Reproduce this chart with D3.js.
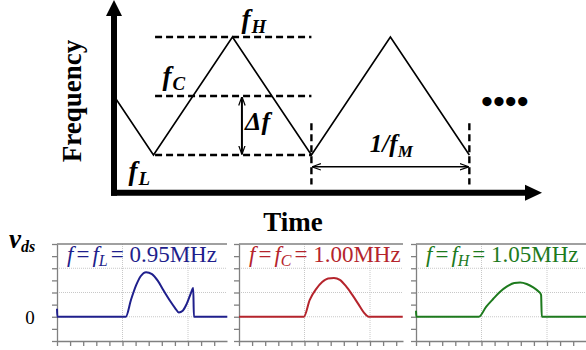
<!DOCTYPE html>
<html>
<head>
<meta charset="utf-8">
<script src="https://cdn.jsdelivr.net/npm/d3@7"></script>
<style>
  body { margin: 0; background: #fff; }
  svg text { font-family: "Liberation Serif", "Times New Roman", serif; }
</style>
</head>
<body>
<script>
// frequency modulation sketch: time in modulation periods, frequency in MHz
var triTime = [-0.25, 0, 0.5, 1, 1.5, 2];
var triFreq = [1.00, 0.95, 1.05, 0.95, 1.05, 0.95];
var levelFreq = [1.05, 1.00, 0.95];
var levelSub = ["H", "C", "L"];

// vds waveforms (time and voltage in grid divisions)
var panelSub = ["L", "C", "H"];
var panelFreq = ["0.95MHz", "1.00MHz", "1.05MHz"];
var panelColor = ["#1f1f8c", "#b5242c", "#1d7a1d"];
var vdsL_t = [0, 0.005, 1.05, 1.13, 1.21, 1.28, 1.36, 1.45, 1.54, 1.63, 1.725, 1.80, 1.86, 1.92, 1.98, 2.04, 2.08, 2.09, 2.6];
var vdsL_v = [0.33, 0, 0, 0.70, 1.31, 1.68, 1.84, 1.76, 1.48, 1.07, 0.66, 0.37, 0.18, 0.25, 0.53, 0.94, 1.19, 0, 0];
var vdsC_t = [0, 0.99, 1.08, 1.18, 1.27, 1.36, 1.45, 1.54, 1.63, 1.73, 1.82, 1.91, 1.98, 2.5];
var vdsC_v = [0, 0, 0.70, 1.15, 1.43, 1.58, 1.60, 1.52, 1.27, 0.90, 0.53, 0.16, 0, 0];
var vdsH_t = [0, 0.005, 0.96, 1.07, 1.18, 1.28, 1.39, 1.50, 1.59, 1.69, 1.79, 1.88, 1.895, 1.91, 1.92, 2.6];
var vdsH_v = [0.25, 0, 0, 0.41, 0.74, 1.02, 1.25, 1.39, 1.41, 1.35, 1.21, 1.02, 0.98, 0.90, 0, 0];
var vdsT = [vdsL_t, vdsC_t, vdsH_t];
var vdsV = [vdsL_v, vdsC_v, vdsH_v];

var svg = d3.select("body").append("svg")
  .attr("width", 586).attr("height", 350);

// ---------- top sketch ----------
var x = d3.scaleLinear().domain([-0.25, 2.46]).range([114, 542]);
var y = d3.scaleLinear().domain([0.95, 1.05]).range([155, 37]);

var defs = svg.append("defs");
defs.append("marker").attr("id", "ah")
  .attr("viewBox", "0 -4 9 8").attr("refX", 8.5).attr("refY", 0)
  .attr("markerWidth", 9).attr("markerHeight", 8)
  .attr("markerUnits", "userSpaceOnUse")
  .attr("orient", "auto-start-reverse")
  .append("path").attr("d", "M0,-3.2L9,0L0,3.2").attr("fill", "none")
  .attr("stroke", "#000").attr("stroke-width", 1.2);

var axY = y(0.918);
// axes
svg.append("line").attr("x1", x(-0.25)).attr("x2", x(-0.25))
  .attr("y1", axY + 3).attr("y2", 14)
  .attr("stroke", "#000").attr("stroke-width", 6);
svg.append("path")
  .attr("d", "M" + (x(-0.25) - 8) + ",16L" + x(-0.25) + ",0L" + (x(-0.25) + 8) + ",16Z");
svg.append("line").attr("x1", x(-0.25) - 3).attr("x2", 527)
  .attr("y1", axY).attr("y2", axY)
  .attr("stroke", "#000").attr("stroke-width", 6);
svg.append("path")
  .attr("d", "M525," + (axY - 8) + "L" + x(2.46) + "," + axY + "L525," + (axY + 8) + "Z");

// dashed level lines
svg.selectAll("line.level").data(levelFreq).enter().append("line")
  .attr("class", "level")
  .attr("x1", x(0.01)).attr("x2", x(1))
  .attr("y1", function(d) { return y(d); }).attr("y2", function(d) { return y(d); })
  .attr("stroke", "#000").attr("stroke-width", 2.4).attr("stroke-dasharray", "7,4");

// dashed period markers
svg.selectAll("line.period").data([1, 2]).enter().append("line")
  .attr("class", "period")
  .attr("x1", function(d) { return x(d); }).attr("x2", function(d) { return x(d); })
  .attr("y1", y(0.977)).attr("y2", y(0.925))
  .attr("stroke", "#000").attr("stroke-width", 2.4).attr("stroke-dasharray", "7,4");

// triangle
svg.append("path")
  .datum(d3.zip(triTime, triFreq))
  .attr("d", d3.line().x(function(d) { return x(d[0]); }).y(function(d) { return y(d[1]); }))
  .attr("fill", "none").attr("stroke", "#000").attr("stroke-width", 1.6);

// delta f arrow
svg.append("line")
  .attr("x1", x(0.56)).attr("x2", x(0.56))
  .attr("y1", y(1.00) + 1).attr("y2", y(0.95) - 1)
  .attr("stroke", "#000").attr("stroke-width", 2)
  .attr("marker-start", "url(#ah)").attr("marker-end", "url(#ah)");

// 1/fM arrow
svg.append("line")
  .attr("x1", x(1) + 1).attr("x2", x(2) - 1)
  .attr("y1", y(0.94)).attr("y2", y(0.94))
  .attr("stroke", "#000").attr("stroke-width", 1.5)
  .attr("marker-start", "url(#ah)").attr("marker-end", "url(#ah)");

function fLabel(px, py, sub, size) {
  var t = svg.append("text").attr("x", px).attr("y", py)
    .attr("font-weight", "bold").attr("font-style", "italic").attr("font-size", size);
  t.append("tspan").text("f");
  t.append("tspan").attr("dy", 5).attr("dx", 1).attr("font-size", size * 0.7).text(sub);
  return t;
}
var lblPos = [[0.557, 1.05, -9], [0.057, 1.00, -11], [-0.158, 0.95, 25]];
levelSub.forEach(function(s, i) {
  fLabel(x(lblPos[i][0]), y(lblPos[i][1]) + lblPos[i][2], s, 27);
});

svg.append("text").attr("x", x(0.58)).attr("y", y(0.975) + 4)
  .attr("font-weight", "bold").attr("font-style", "italic").attr("font-size", 26)
  .text("\u0394f");

var fm = svg.append("text").attr("x", x(1.37)).attr("y", y(0.95) - 3)
  .attr("font-weight", "bold").attr("font-style", "italic").attr("font-size", 25);
fm.append("tspan").text("1/f");
fm.append("tspan").attr("dy", 5).attr("font-size", 17).text("M");

svg.append("text").attr("x", 481).attr("y", 113)
  .attr("font-weight", "bold").attr("font-size", 34).text("\u2022\u2022\u2022\u2022");

svg.append("text")
  .attr("transform", "translate(81," + 101 + ") rotate(-90)")
  .attr("text-anchor", "middle").attr("font-weight", "bold").attr("font-size", 27)
  .text("Frequency");
svg.append("text").attr("x", 293).attr("y", 231)
  .attr("text-anchor", "middle").attr("font-weight", "bold").attr("font-size", 27)
  .text("Time");

// ---------- vds panels ----------
var panelLeft = [57, 239, 416];
var panelRight = [227, 403, 586];
var panelTop = 244, panelBottom = 341, divPx = 65.5;
var vy = d3.scaleLinear().domain([-1, 3]).range([panelBottom, panelTop]);

panelLeft.forEach(function(left, i) {
  var w = panelRight[i] - left;
  var vx = d3.scaleLinear().domain([0, w / divPx]).range([left, left + w]);
  var g = svg.append("g");
  var xMax = w / divPx;

  g.selectAll("line.hg").data([0, 1, 2]).enter().append("line")
    .attr("x1", left).attr("x2", left + w)
    .attr("y1", function(d) { return vy(d); }).attr("y2", function(d) { return vy(d); })
    .attr("stroke", "#c8c8c8").attr("stroke-width", 1).attr("stroke-dasharray", "1,1");
  g.selectAll("line.vg").data(d3.range(1, xMax, 1)).enter().append("line")
    .attr("x1", function(d) { return vx(d); }).attr("x2", function(d) { return vx(d); })
    .attr("y1", panelTop).attr("y2", panelBottom)
    .attr("stroke", "#c8c8c8").attr("stroke-width", 1).attr("stroke-dasharray", "1,1");

  g.append("g").attr("transform", "translate(" + left + ",0)")
    .call(d3.axisLeft(vy).tickValues(d3.range(-1, 3.01, 0.5)).tickSize(5).tickSizeOuter(0).tickFormat(""));
  g.append("g").attr("transform", "translate(0," + panelBottom + ")")
    .call(d3.axisBottom(vx).tickValues(d3.range(0, xMax, 0.2)).tickSize(5).tickSizeOuter(0).tickFormat(""));
  g.append("line").attr("x1", left).attr("x2", left + w).attr("y1", panelTop).attr("y2", panelTop)
    .attr("stroke", "#808080").attr("stroke-width", 1.5);
  g.selectAll(".domain, .tick line").attr("stroke", "#808080").attr("stroke-width", 1.3);

  g.append("path")
    .datum(d3.zip(vdsT[i], vdsV[i]))
    .attr("d", d3.line().curve(d3.curveMonotoneX)
      .x(function(d) { return vx(d[0]); }).y(function(d) { return vy(d[1]); }))
    .attr("fill", "none").attr("stroke", panelColor[i]).attr("stroke-width", 2);

  var t = g.append("text").attr("x", left + 10).attr("y", 262)
    .attr("font-size", 23).attr("fill", panelColor[i]);
  t.append("tspan").attr("font-style", "italic").text("f");
  t.append("tspan").attr("dx", 3).text("=");
  t.append("tspan").attr("dx", 3).attr("font-style", "italic").text("f");
  t.append("tspan").attr("dy", 4).attr("font-style", "italic").attr("font-size", 16).text(panelSub[i]);
  t.append("tspan").attr("dy", -4).attr("dx", 3).text("= " + panelFreq[i]);
});

var v = svg.append("text").attr("x", 9).attr("y", 248)
  .attr("font-weight", "bold").attr("font-style", "italic").attr("font-size", 27);
v.append("tspan").text("v");
v.append("tspan").attr("dy", 4).attr("font-size", 16).text("ds");
svg.append("text").attr("x", 30).attr("y", vy(0) + 7)
  .attr("text-anchor", "middle").attr("font-size", 19).text("0");
</script>
</body>
</html>
